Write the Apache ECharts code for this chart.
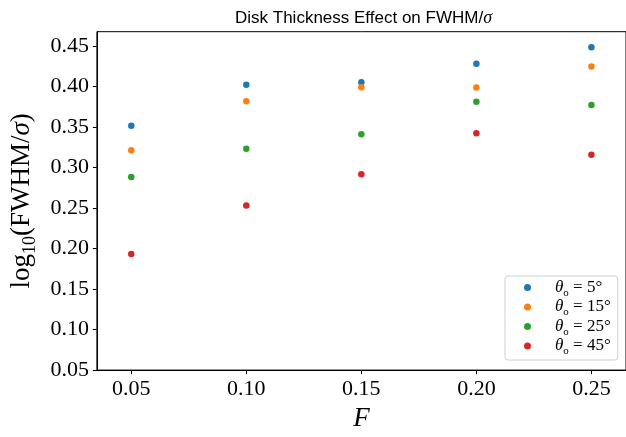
<!DOCTYPE html>
<html>
<head>
<meta charset="utf-8">
<script src="https://cdn.jsdelivr.net/npm/echarts@6/dist/echarts.min.js"></script>
<style>html,body{margin:0;padding:0;background:#fff}#c{width:626px;height:437px}</style>
</head>
<body>
<div id="c"></div>
<script>
const F_values = [0.05, 0.10, 0.15, 0.20, 0.25];
const inclinations = [5, 15, 25, 45];
const theta5  = [0.3516, 0.4020, 0.4053, 0.4282, 0.4483];
const theta15 = [0.3214, 0.3818, 0.3992, 0.3988, 0.4246];
const theta25 = [0.2884, 0.3231, 0.3412, 0.3811, 0.3770];
const theta45 = [0.1933, 0.2530, 0.2917, 0.3424, 0.3159];
const xTicks = [0.05, 0.10, 0.15, 0.20, 0.25];
const yTicks = [0.05, 0.10, 0.15, 0.20, 0.25, 0.30, 0.35, 0.40, 0.45];
const colors = ['#1f77b4', '#ff7f0e', '#2ca02c', '#d62728'];
const seriesValues = [theta5, theta15, theta25, theta45];

const serif = '"Liberation Serif", "DejaVu Serif", serif';
const sans = '"Liberation Sans", "DejaVu Sans", sans-serif';

const chart = echarts.init(document.getElementById('c'), null, {renderer: 'canvas'});
const names = inclinations.map(v => 'θo = ' + v + '°');

chart.setOption({
  animation: false,
  backgroundColor: '#fff',
  title: {
    text: '{a|Disk Thickness Effect on FWHM/}{i|σ}',
    left: 230, top: 4,
    textStyle: {
      fontWeight: 'normal',
      rich: {
        a: {fontFamily: sans, fontSize: 17, fontWeight: 'normal', color: '#000'},
        i: {fontFamily: serif, fontStyle: 'italic', fontWeight: 'normal', fontSize: 18, color: '#000'}
      }
    }
  },
  grid: {
    left: 94, top: 31.7, right: -2, bottom: 59.7,
    show: true, borderColor: '#000', borderWidth: 1, backgroundColor: 'transparent'
  },
  legend: {
    orient: 'vertical',
    left: 505, top: 276,
    padding: [3, 7, 3, 19],
    itemGap: 0,
    itemWidth: 7, itemHeight: 7,
    icon: 'circle',
    backgroundColor: '#fff',
    borderColor: '#d0d0d0', borderWidth: 1, borderRadius: 3,
    data: names,
    formatter: function (name) {
      const idx = names.indexOf(name);
      return '{i|θ}{s|o}{r| = ' + inclinations[idx] + '°}';
    },
    textStyle: {
      padding: [0, 0, 0, 19],
      rich: {
        i: {fontFamily: serif, fontStyle: 'italic', fontSize: 17, lineHeight: 22, color: '#000'},
        s: {fontFamily: serif, fontSize: 11, lineHeight: 12, verticalAlign: 'bottom', color: '#000'},
        r: {fontFamily: serif, fontSize: 17, lineHeight: 22, color: '#000'}
      }
    }
  },
  xAxis: {
    type: 'value',
    min: 0.03506, max: 0.26503,
    name: 'F',
    nameLocation: 'middle',
    nameGap: 33,
    nameTextStyle: {fontFamily: serif, fontStyle: 'italic', fontSize: 27, color: '#000'},
    axisLine: {show: true, onZero: false, lineStyle: {color: '#000', width: 1}},
    axisTick: {show: true, inside: false, length: 4, lineStyle: {color: '#000'}, customValues: xTicks},
    axisLabel: {
      customValues: xTicks, margin: 8,
      fontFamily: serif, fontSize: 22, color: '#000',
      formatter: v => v.toFixed(2)
    },
    splitLine: {show: false}
  },
  yAxis: {
    type: 'value',
    min: 0.05, max: 0.4676,
    name: '{a|log}{s|10}{a|(FWHM/}{i|σ}{a|)}',
    nameLocation: 'middle',
    nameRotate: 90,
    nameGap: 52,
    nameTextStyle: {
      rich: {
        a: {fontFamily: serif, fontSize: 27, lineHeight: 36, color: '#000'},
        s: {fontFamily: serif, fontSize: 18, lineHeight: 18, verticalAlign: 'bottom', color: '#000'},
        i: {fontFamily: serif, fontStyle: 'italic', fontSize: 27, lineHeight: 36, color: '#000'}
      }
    },
    axisLine: {show: true, onZero: false, lineStyle: {color: '#000', width: 1}},
    axisTick: {show: true, inside: false, length: 4, lineStyle: {color: '#000'}, customValues: yTicks},
    axisLabel: {
      customValues: yTicks, margin: 8,
      fontFamily: serif, fontSize: 22, color: '#000',
      formatter: v => v.toFixed(2)
    },
    splitLine: {show: false}
  },
  series: seriesValues.map((vals, k) => ({
    name: names[k],
    type: 'scatter',
    symbol: 'circle',
    symbolSize: 6.5,
    itemStyle: {color: colors[k], opacity: 1},
    data: F_values.map((f, i) => [f, vals[i]])
  }))
});
</script>
</body>
</html>
